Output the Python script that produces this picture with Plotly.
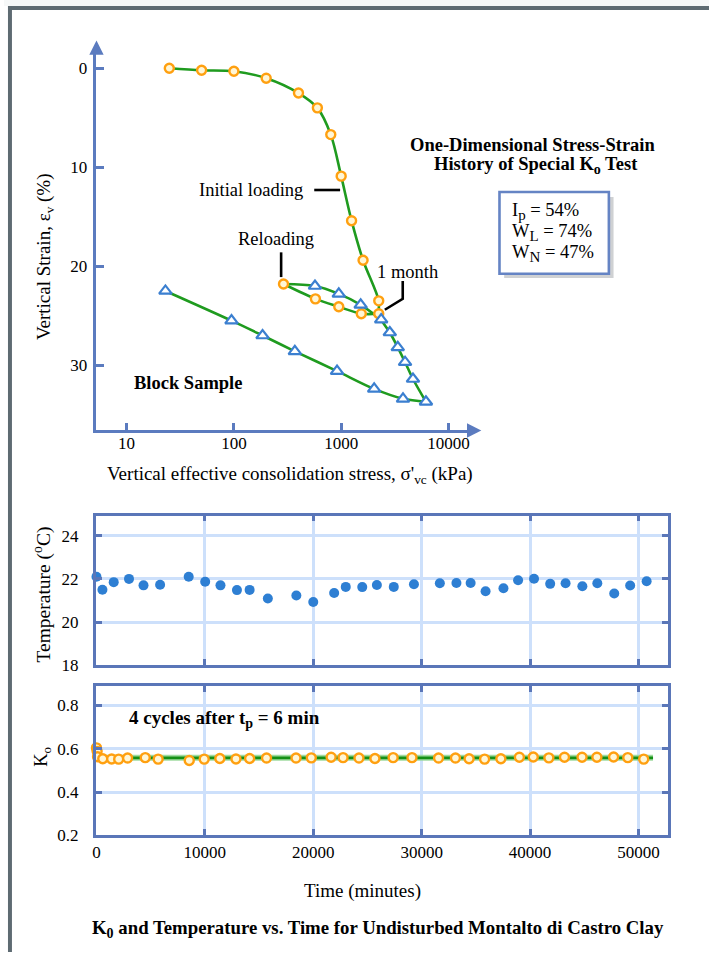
import plotly.graph_objects as go

# ---------------------------------------------------------------------------
# One-dimensional stress-strain history (special Ko test)
# ---------------------------------------------------------------------------
# Virgin loading (orange circles): stress in kPa, vertical strain in %
load_stress = [25, 50, 100, 200, 400, 600, 800, 1000, 1250, 1600, 2240]
load_strain = [0.0, 0.2, 0.3, 1.0, 2.5, 4.0, 6.7, 10.9, 15.4, 19.4, 23.5]
# Creep held for one month at constant stress
creep_stress = [2240]
creep_strain = [24.8]
# Unloading after creep (orange circles)
unload1_stress = [1540, 950, 575, 290]
unload1_strain = [24.8, 24.1, 23.3, 21.8]
# Reloading (blue triangles)
reload_stress = [570, 950, 1520, 2360, 2840, 3370, 3940, 4670, 6170]
reload_strain = [22.0, 22.8, 23.9, 25.4, 26.7, 28.2, 29.7, 31.4, 33.7]
# Final unloading of the block sample (blue triangles)
unload2_stress = [3770, 2030, 915, 370, 185, 95, 23]
unload2_strain = [33.4, 32.4, 30.6, 28.6, 27.0, 25.5, 22.5]

stress_ticks = [10, 100, 1000, 10000]
strain_ticks = [0, 10, 20, 30]

# ---------------------------------------------------------------------------
# Temperature and Ko vs. time
# ---------------------------------------------------------------------------
temp_time = [0, 550, 1590, 3000, 4340, 5870, 8510, 10030, 11440, 12960, 14130,
             15810, 18440, 20000, 21930, 23000, 24520, 25870, 27430, 29290,
             31680, 33210, 34520, 35900, 37550, 38900, 40370, 41860, 43280,
             44830, 46210, 47770, 49240, 50760]
temp_c = [22.1, 21.5, 21.85, 22.0, 21.7, 21.73, 22.1, 21.87, 21.7, 21.48, 21.49,
          21.09, 21.23, 20.93, 21.35, 21.63, 21.62, 21.72, 21.63, 21.75,
          21.8, 21.81, 21.81, 21.43, 21.57, 21.94, 22.01, 21.77, 21.8,
          21.66, 21.8, 21.32, 21.69, 21.89]

k0_time = [0, 60, 100, 580, 1400, 2050, 2870, 4500, 5690, 8560, 9940, 11380,
           12870, 14130, 15690, 18410, 19820, 21650, 22750, 24220, 25690,
           27370, 29110, 31560, 33120, 34380, 35810, 37310, 39020, 40300,
           41740, 43180, 44800, 46170, 47710, 49020, 50490]
k0_value = [0.604, 0.588, 0.563, 0.554, 0.553, 0.552, 0.557, 0.559, 0.552,
            0.546, 0.552, 0.555, 0.553, 0.555, 0.557, 0.557, 0.558, 0.561,
            0.559, 0.557, 0.555, 0.559, 0.559, 0.557, 0.557, 0.554, 0.552,
            0.554, 0.561, 0.562, 0.558, 0.561, 0.561, 0.561, 0.562, 0.559,
            0.552]
k0_mean_time = [0, 51350]
k0_mean = [0.558, 0.558]

time_ticks = [0, 10000, 20000, 30000, 40000, 50000]
temp_ticks = [18, 20, 22, 24]
k0_ticks = [0.2, 0.4, 0.6, 0.8]

# ---------------------------------------------------------------------------
# Styling
# ---------------------------------------------------------------------------
W, H = 709, 962
SERIF = "Liberation Serif, Times New Roman, serif"
AXIS_BLUE = "#5b7bbf"
FRAME_BLUE = "#5a76b8"
GRID_BLUE = "#cde0fb"
GREEN = "#1f9b1f"
ORANGE = "#ffa010"
ORANGE_FILL = "#fff6d6"
TRI_BLUE = "#3b7fd0"
DOT_BLUE = "#2e7fd3"


def px(x):
    """Horizontal pixel -> paper fraction."""
    return x / W


def py(y):
    """Vertical pixel (from top) -> paper fraction."""
    return 1 - y / H


fig = go.Figure()

# --- stress-strain curves -------------------------------------------------
curve_style = dict(color=GREEN, width=2.6, shape="spline", smoothing=0.9)
segments = [
    (load_stress + creep_stress + reload_stress[3:],
     load_strain + creep_strain + reload_strain[3:]),
    (creep_stress + unload1_stress, creep_strain + unload1_strain),
    (unload1_stress[-1:] + reload_stress[:4], unload1_strain[-1:] + reload_strain[:4]),
    (reload_stress[-1:] + unload2_stress, reload_strain[-1:] + unload2_strain),
]
for xs, ys in segments:
    fig.add_trace(go.Scatter(x=xs, y=ys, mode="lines", line=curve_style,
                             xaxis="x", yaxis="y", hoverinfo="skip"))

fig.add_trace(go.Scatter(
    x=load_stress + creep_stress + unload1_stress,
    y=load_strain + creep_strain + unload1_strain,
    mode="markers", xaxis="x", yaxis="y", cliponaxis=False,
    marker=dict(symbol="circle", size=9, color=ORANGE_FILL,
                line=dict(color=ORANGE, width=2.4))))
fig.add_trace(go.Scatter(
    x=reload_stress + unload2_stress,
    y=reload_strain + unload2_strain,
    mode="markers", xaxis="x", yaxis="y", cliponaxis=False,
    marker=dict(symbol="triangle-up", size=11, color="white",
                line=dict(color=TRI_BLUE, width=2.2))))

# --- temperature ------------------------------------------------------------
fig.add_trace(go.Scatter(
    x=temp_time, y=temp_c, mode="markers", xaxis="x2", yaxis="y2",
    cliponaxis=False, marker=dict(size=10, color=DOT_BLUE)))

# --- Ko ---------------------------------------------------------------------
fig.add_trace(go.Scatter(
    x=k0_mean_time, y=k0_mean, mode="lines", xaxis="x3", yaxis="y3",
    line=dict(color="rgba(150,215,150,0.9)", width=6), hoverinfo="skip"))
fig.add_trace(go.Scatter(
    x=k0_mean_time, y=k0_mean, mode="lines", xaxis="x3", yaxis="y3",
    line=dict(color="#159015", width=2.6), hoverinfo="skip"))
fig.add_trace(go.Scatter(
    x=k0_time, y=k0_value, mode="markers", xaxis="x3", yaxis="y3",
    cliponaxis=False,
    marker=dict(symbol="circle", size=9, color=ORANGE_FILL,
                line=dict(color=ORANGE, width=2.4))))

tick_font = dict(family=SERIF, size=17, color="black")

# time axis range spanning the framed panels
t_left, t_right = -64, 52688

frame_axis = dict(showline=True, linecolor=FRAME_BLUE, linewidth=2.8,
                  mirror="ticks", ticks="inside", ticklen=6, tickwidth=2.5,
                  tickcolor=FRAME_BLUE, showgrid=True, gridcolor=GRID_BLUE,
                  gridwidth=2.5, zeroline=False, tickfont=tick_font)

fig.update_layout(
    width=W, height=H,
    margin=dict(l=0, r=0, t=0, b=0),
    paper_bgcolor="white", plot_bgcolor="white",
    showlegend=False,
    xaxis=dict(type="log", domain=[px(93), px(472)], range=[0.719, 4.232],
               anchor="y", showline=True, linecolor=AXIS_BLUE, linewidth=2.6,
               ticks="inside", ticklen=8, tickwidth=2.6, tickcolor=AXIS_BLUE,
               tickvals=stress_ticks, ticktext=[str(v) for v in stress_ticks],
               showgrid=False, zeroline=False, tickfont=tick_font,
               ticklabelstandoff=-5),
    yaxis=dict(domain=[py(435), py(48)], range=[36.6, -2.1], anchor="x",
               showline=True, linecolor=AXIS_BLUE, linewidth=2.6,
               ticks="inside", ticklen=8, tickwidth=2.6, tickcolor=AXIS_BLUE,
               tickvals=strain_ticks, showgrid=False, zeroline=False,
               tickfont=tick_font, ticklabelstandoff=3),
    xaxis2=dict(domain=[px(92.3), px(667.3)], range=[t_left, t_right],
                anchor="y2", tickvals=time_ticks, showticklabels=False,
                **frame_axis),
    yaxis2=dict(domain=[py(672.3), py(521)], range=[18, 24.93], anchor="x2",
                tickvals=temp_ticks, ticklabelstandoff=11, **frame_axis),
    xaxis3=dict(domain=[px(92.3), px(667.3)], range=[t_left, t_right],
                anchor="y3", tickvals=time_ticks,
                ticktext=[str(v) for v in time_ticks], ticklabelstandoff=-1,
                **frame_axis),
    yaxis3=dict(domain=[py(844), py(693.3)], range=[0.2, 0.89], anchor="x3",
                tickvals=k0_ticks, ticktext=[f"{v:.1f}" for v in k0_ticks],
                ticklabelstandoff=11, **frame_axis),
)

# --- page frame, property box, leader lines ----------------------------------
line_black = dict(color="black", width=2.6)
shapes = [
    dict(type="rect", xref="paper", yref="paper", x0=0, x1=1, y0=py(6), y1=1,
         fillcolor="#f6f8f8", line=dict(width=0), layer="below"),
    dict(type="rect", xref="paper", yref="paper", x0=px(4), x1=1,
         y0=py(10), y1=py(6), fillcolor="#5e6b72", line=dict(width=0)),
    dict(type="rect", xref="paper", yref="paper", x0=px(4), x1=px(8),
         y0=0, y1=py(6), fillcolor="#5e6b72", line=dict(width=0)),
    # shadow + property box
    dict(type="rect", xref="paper", yref="paper", x0=px(503), x1=px(613),
         y0=py(281), y1=py(199), fillcolor="#cfd1d3", line=dict(width=0)),
    dict(type="rect", xref="paper", yref="paper", x0=px(498.3), x1=px(608.3),
         y0=py(276.7), y1=py(194), fillcolor="white",
         line=dict(color="#6584c4", width=2.6)),
    # leader lines
    dict(type="line", xref="paper", yref="paper", x0=px(312), x1=px(338),
         y0=py(192), y1=py(192), line=line_black),
    dict(type="line", xref="paper", yref="paper", x0=px(278.7), x1=px(278.7),
         y0=py(255), y1=py(280), line=line_black),
    dict(type="path", xref="paper", yref="paper",
         path=(f"M {px(401)},{py(284)} L {px(401)},{py(302)} "
               f"L {px(383)},{py(313)}"), line=line_black),
]
fig.update_layout(shapes=shapes)


def sub(s, size=14):
    return f"<sub><span style='font-size:{size}px'>{s}</span></sub>"


def label(x, y, text, size=18.5, bold=False, angle=0, align="center",
          xanchor="center"):
    t = f"<b>{text}</b>" if bold else text
    return dict(x=px(x), y=py(y), xref="paper", yref="paper", text=t,
                showarrow=False, textangle=angle, align=align,
                xanchor=xanchor, yanchor="middle",
                font=dict(family=SERIF, size=size, color="black"))


def arrow_tip(x, y, dx, dy):
    return dict(x=px(x), y=py(y), xref="paper", yref="paper", text="",
                showarrow=True, arrowhead=2, arrowsize=1.1, arrowwidth=2.6,
                arrowcolor=AXIS_BLUE, ax=dx, ay=dy, standoff=0)


annotations = [
    arrow_tip(93, 41, 0, 14),
    arrow_tip(480, 435, -14, 0),
    label(42, 259, "Vertical Strain, ε<sub>v</sub> (%)", size=19, angle=-90),
    label(288, 480, "Vertical effective consolidation stress, "
                    "σ'<sub>vc</sub> (kPa)", size=19),
    label(532, 146.7, "One-Dimensional Stress-Strain", bold=True),
    label(535, 167, "History of Special K" + sub("o") + " Test", bold=True),
    label(509, 214, "I" + sub("p", 15) + " = 54%", xanchor="left"),
    label(509, 235, "W" + sub("L", 15) + " = 74%", xanchor="left"),
    label(509, 256, "W" + sub("N", 15) + " = 47%", xanchor="left"),
    label(248, 191.7, "Initial loading"),
    label(274, 241.7, "Reloading"),
    label(405.5, 275, "1 month"),
    label(185, 387, "Block Sample", bold=True),
    label(39, 601, "Temperature (<sup>o</sup>C)", size=19.5, angle=-90),
    label(38, 765, "K<sub>o</sub>", angle=-90),
    label(222, 727, "4 cycles after t" + sub("p") + " = 6 min", size=19,
          bold=True),
    label(361, 900, "Time (minutes)", size=19),
    label(376, 939, "K" + sub("0") + " and Temperature vs. Time for "
                    "Undisturbed Montalto di Castro Clay", size=18.8,
          bold=True),
]
fig.update_layout(annotations=annotations)

fig.write_html("out.html")
